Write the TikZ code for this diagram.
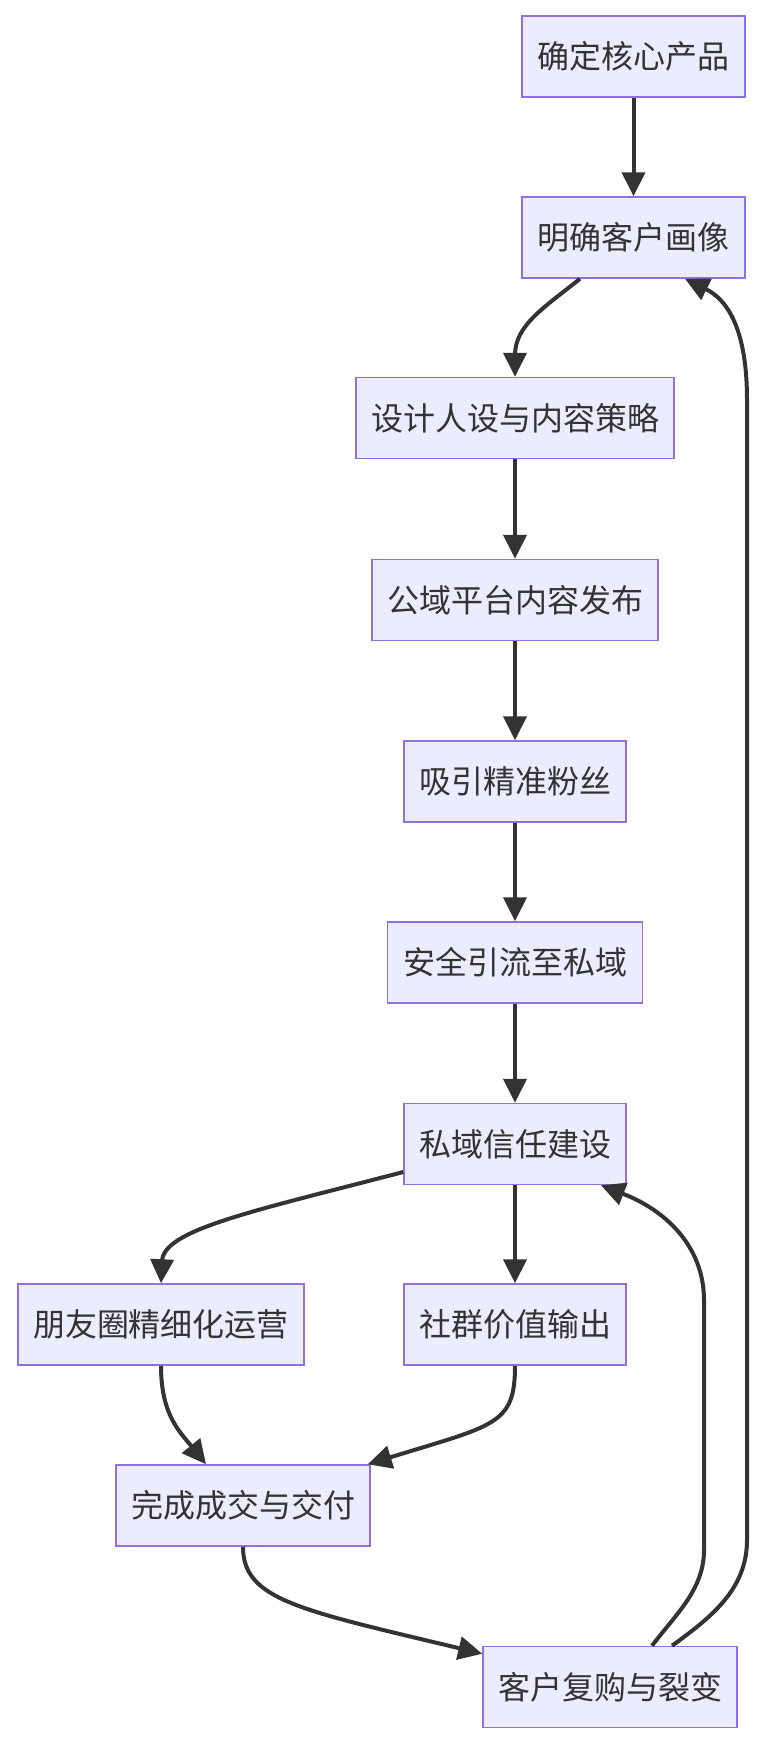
\documentclass[tikz,border=0pt]{standalone}
\usepackage{fontspec}
\newfontfamily\cjk{Noto Sans CJK SC}
\usetikzlibrary{arrows.meta}
\definecolor{boxfill}{HTML}{ECECFF}
\definecolor{boxline}{HTML}{9370DB}
\definecolor{edgec}{HTML}{333333}
\begin{document}
\begin{tikzpicture}[x=1pt,y=-1pt,
  box/.style={draw=boxline, fill=boxfill, line width=1.5pt, minimum height=81pt,
    inner sep=0pt, text=edgec, font=\cjk\fontsize{32}{36}\selectfont},
  flow/.style={draw=edgec, line width=4pt, -{Triangle[length=24pt,width=23pt]}}]
\useasboundingbox (0,0) rectangle (764,1746);

\node[box, minimum width=223pt] (b1) at (633.5,56.5) {确定核心产品};
\node[box, minimum width=223pt] (b2) at (633.5,237.5) {明确客户画像};
\node[box, minimum width=318pt] (b3) at (515,418) {设计人设与内容策略};
\node[box, minimum width=286pt] (b4) at (515,600) {公域平台内容发布};
\node[box, minimum width=222pt] (b5) at (515,781.5) {吸引精准粉丝};
\node[box, minimum width=255pt] (b6) at (515,962.5) {安全引流至私域};
\node[box, minimum width=222pt] (b7) at (515,1144) {私域信任建设};
\node[box, minimum width=286pt] (b8) at (161,1324.5) {朋友圈精细化运营};
\node[box, minimum width=222pt] (b9) at (515,1324.5) {社群价值输出};
\node[box, minimum width=254pt] (b10) at (243,1505.5) {完成成交与交付};
\node[box, minimum width=254pt] (b11) at (610,1687) {客户复购与裂变};

\draw[flow] (b1.south) -- (b2.north);
\draw[flow] ([xshift=-53.5pt]b2.south) .. controls (545,307) and (515,325) .. (515,355) -- (b3.north);
\draw[flow] (b3.south) -- (b4.north);
\draw[flow] (b4.south) -- (b5.north);
\draw[flow] (b5.south) -- (b6.north);
\draw[flow] (b6.south) -- (b7.north);
\draw[flow] ([yshift=-28pt]b7.west) .. controls (250,1212) and (162,1230) .. (162,1262) -- (b8.north);
\draw[flow] (b7.south) -- (b9.north);
\draw[flow] (b8.south) .. controls (161,1415) and (180,1432) .. ([xshift=-37pt]b10.north);
\draw[flow] (b9.south) .. controls (515,1425) and (495,1425) .. ([xshift=-3pt]b10.north east);
\draw[flow] (b10.south) .. controls (243,1600) and (300,1610) .. ([yshift=-8pt]b11.north west);
\draw[flow] ([xshift=42pt]b11.north) .. controls (675,1615) and (704,1590) .. (704,1550)
  -- (704,1300) .. controls (704,1250) and (670,1212) .. ([xshift=86pt]b7.south);
\draw[flow] ([xshift=62pt]b11.north) .. controls (710,1618) and (747,1590) .. (747,1540)
  -- (747,400) .. controls (747,330) and (728,300) .. ([xshift=51.5pt]b2.south);
\end{tikzpicture}
\end{document}
